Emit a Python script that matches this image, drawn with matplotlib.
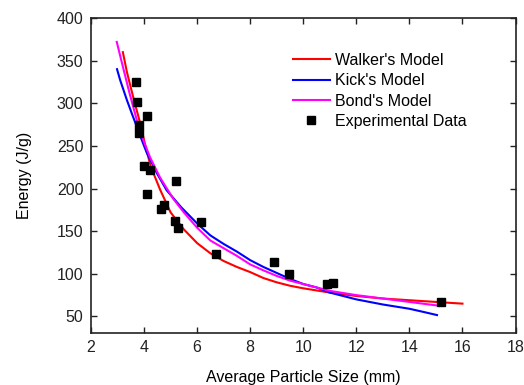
import matplotlib
matplotlib.use("Agg")
import matplotlib.pyplot as plt

plt.rcParams['font.family'] = ['Liberation Sans', 'DejaVu Sans']

# Experimental measurements: particle size (mm) vs specific energy (J/g)
exp_size = [3.70, 3.75, 4.11, 3.81, 3.80, 3.99, 4.22, 5.22, 4.11, 4.76,
            4.65, 5.17, 5.29, 6.15, 6.72, 8.90, 9.48, 10.91, 11.13, 15.20]
exp_energy = [325, 301, 285, 274, 265, 226, 222, 209, 194, 181,
              176, 162, 154, 161, 123, 114, 100, 88, 89, 67]

# Walker's model curve
walker_size = [3.20, 3.35, 3.60, 3.85, 4.05, 4.25, 4.60, 5.00, 5.50, 6.00,
               6.50, 7.00, 7.50, 8.00, 8.50, 9.00, 9.50, 10.0, 10.5, 11.0,
               12.0, 13.0, 14.0, 15.0, 16.0]
walker_energy = [360, 337, 306, 277, 250, 226, 199, 172, 152, 136,
                 124, 115, 108, 102, 95, 90, 86, 83, 80.5, 78,
                 74, 71, 69, 67, 65]

# Kick's model curve
kick_size = [2.98, 3.10, 3.22, 3.35, 3.55, 3.72, 3.90, 4.10, 4.50, 4.85,
             5.40, 6.00, 6.50, 7.00, 7.50, 8.00, 8.50, 9.00, 9.50, 10.0,
             10.5, 11.0, 11.5, 12.0, 12.5, 13.0, 13.5, 14.0, 14.5, 15.04]
kick_energy = [340, 327, 316, 304, 287, 273, 258, 242, 217, 198,
               178, 159, 145, 135, 126, 116, 108, 101, 94, 88,
               84, 78, 74, 70, 67, 64, 61.5, 59, 55.5, 51.6]

# Bond's model curve
bond_size = [2.97, 3.20, 3.45, 3.72, 3.97, 4.22, 4.60, 5.10, 5.50, 6.00,
             6.50, 7.00, 7.50, 8.00, 8.50, 9.00, 9.50, 10.0, 10.5, 11.0,
             12.0, 13.0, 14.0, 15.0]
bond_energy = [372, 343, 312, 281, 257, 237, 213, 188, 172, 154,
               139, 130, 121, 111, 104, 97.5, 92, 88, 84, 80,
               75, 71, 67, 63]

x_ticks = [2, 4, 6, 8, 10, 12, 14, 16, 18]
y_ticks = [50, 100, 150, 200, 250, 300, 350, 400]

fig = plt.figure(figsize=(5.24, 3.85), dpi=100)
ax = fig.add_axes([0.1737, 0.1338, 0.8101, 0.8194])

ax.plot(walker_size, walker_energy, color='#ff0000', lw=1.5, label="Walker's Model")
ax.plot(kick_size, kick_energy, color='#0000ff', lw=1.5, label="Kick's Model")
ax.plot(bond_size, bond_energy, color='#ff00ff', lw=1.5, label="Bond's Model")
ax.plot(exp_size, exp_energy, 's', color='black', ms=5.5, ls='none',
        label='Experimental Data')

ax.set_xlim(2, 18)
ax.set_ylim(30, 400)
ax.set_xticks(x_ticks)
ax.set_yticks(y_ticks)
ax.tick_params(direction='in', length=4, width=1, top=True, right=True,
               labelsize=11.5, colors='#222222')
ax.tick_params(axis='y', pad=5.5)
ax.tick_params(axis='x', pad=5)
for s in ax.spines.values():
    s.set_linewidth(1.2)
    s.set_color('#222222')

ax.set_xlabel('Average Particle Size (mm)', fontsize=11.5, labelpad=10.5)
ax.set_ylabel('Energy (J/g)', fontsize=11.5, labelpad=17.5)

ax.legend(loc='upper left', bbox_to_anchor=(0.476, 0.89), frameon=False,
          fontsize=11.5, handlelength=2.3, handletextpad=0.35, labelspacing=0.34,
          borderpad=0.0, borderaxespad=0.0)

fig.savefig('out.png', dpi=100)
